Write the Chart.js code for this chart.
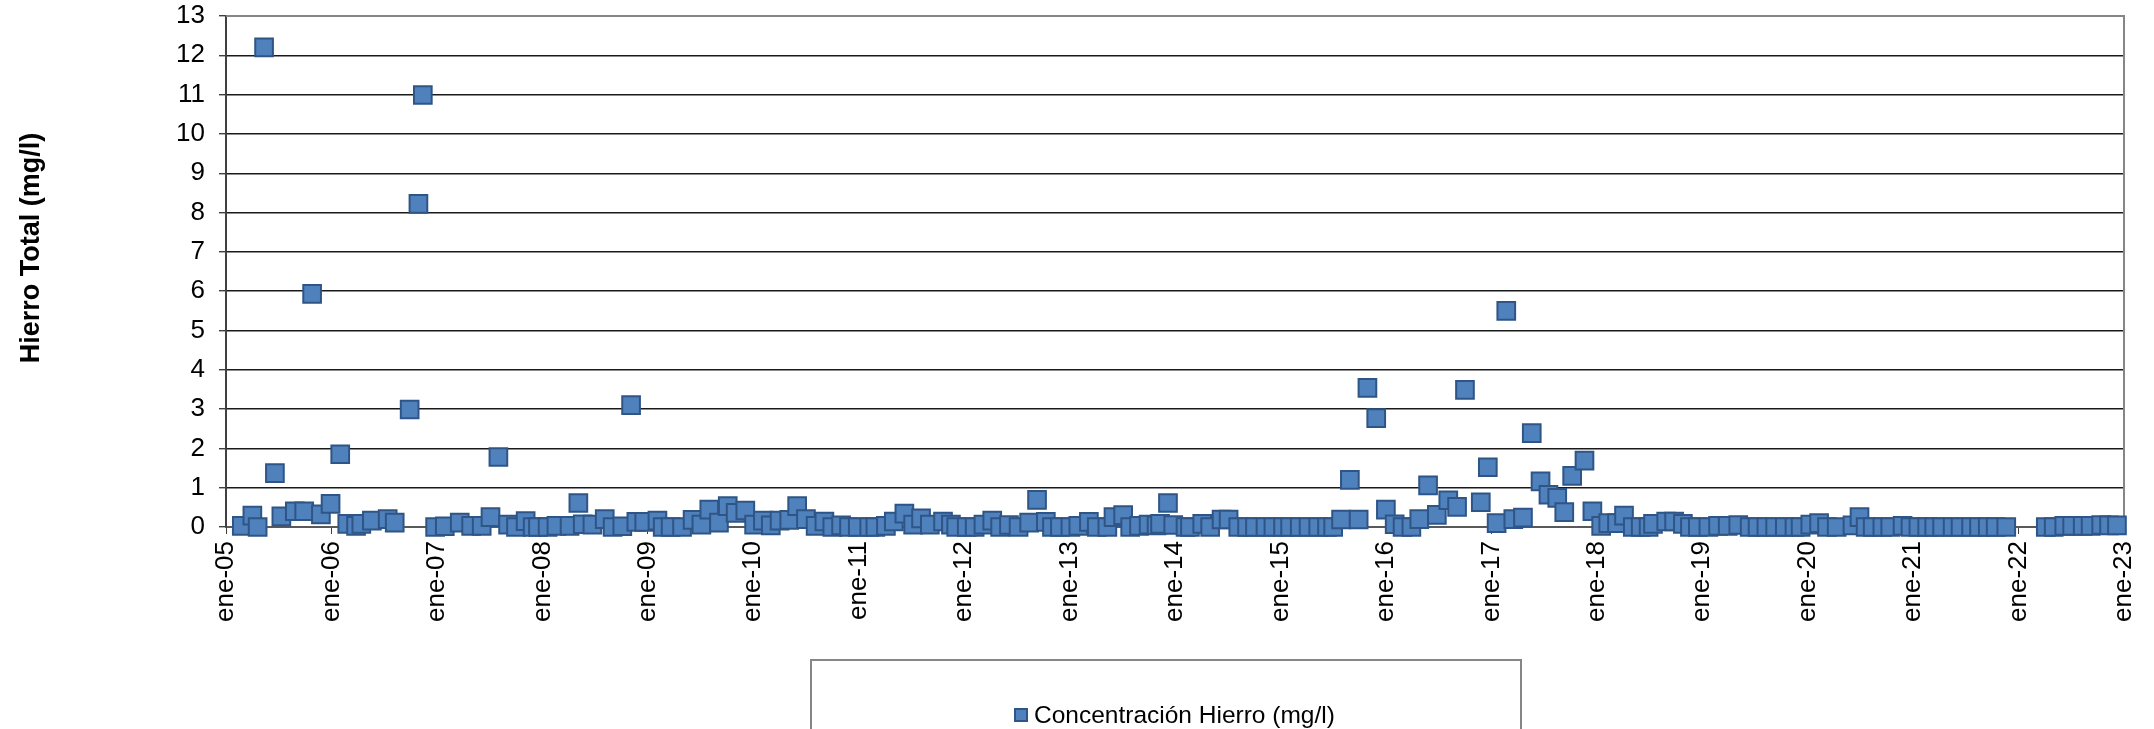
<!DOCTYPE html>
<html lang="es">
<head>
<meta charset="utf-8">
<title>Hierro Total</title>
<script src="https://cdn.jsdelivr.net/npm/chart.js@4.4.1/dist/chart.umd.min.js"></script>
<style>
  html, body { margin: 0; padding: 0; background: #fff; }
  #wrap { position: relative; width: 2154px; height: 729px; overflow: hidden; }
  #legendBox {
    position: absolute; left: 810px; top: 659px; width: 712px; height: 120px;
    border: 2px solid #868686; box-sizing: border-box;
    font-family: "Liberation Sans", Arial, sans-serif; font-size: 24.5px; color: #000;
  }
  #legendItem { position: absolute; left: 202px; top: 40px; line-height: 28px; white-space: nowrap; display: flex; align-items: center; }
  #legendItem .swatch { width: 14px; height: 14px; box-sizing: border-box; background: #4f81bd; border: 2px solid #2f5587; margin-right: 6px; }
</style>
</head>
<body>
<div id="wrap">
  <canvas id="ironChart"></canvas>
  <div id="legendBox"><div id="legendItem"><span class="swatch"></span><span>Concentración Hierro (mg/l)</span></div></div>
</div>
<script>
// sampling dates and total iron in mg/l
const sampleDates = [
  "2005-02-25", "2005-04-01", "2005-04-19", "2005-05-11", "2005-06-18", "2005-07-10", "2005-08-26", "2005-09-28",
  "2005-10-25", "2005-11-25", "2005-12-28", "2006-02-01", "2006-02-25", "2006-03-25", "2006-04-13", "2006-05-19",
  "2006-07-13", "2006-08-07", "2006-09-28", "2006-10-28", "2006-11-13", "2006-12-25", "2007-01-28", "2007-03-19",
  "2007-04-28", "2007-06-04", "2007-07-04", "2007-08-01", "2007-09-04", "2007-10-01", "2007-11-04", "2007-11-28",
  "2007-12-16", "2008-01-19", "2008-02-19", "2008-04-04", "2008-05-04", "2008-05-19", "2008-06-22", "2008-08-04",
  "2008-09-01", "2008-10-04", "2008-11-04", "2008-11-22", "2008-12-19", "2009-02-04", "2009-02-22", "2009-03-19",
  "2009-04-28", "2009-06-04", "2009-07-04", "2009-08-01", "2009-09-04", "2009-10-04", "2009-11-01", "2009-12-04",
  "2010-01-04", "2010-02-04", "2010-03-01", "2010-04-01", "2010-05-04", "2010-06-01", "2010-07-01", "2010-08-04",
  "2010-09-04", "2010-10-01", "2010-11-01", "2010-11-28", "2010-12-28", "2011-02-07", "2011-02-28", "2011-04-04",
  "2011-05-01", "2011-06-07", "2011-07-07", "2011-08-04", "2011-09-04", "2011-10-19", "2011-11-16", "2011-12-04",
  "2012-01-10", "2012-02-07", "2012-03-07", "2012-04-07", "2012-05-04", "2012-06-04", "2012-07-07", "2012-08-13",
  "2012-09-10", "2012-10-10", "2012-11-01", "2012-11-28", "2013-01-04", "2013-02-01", "2013-03-07", "2013-04-04",
  "2013-05-10", "2013-06-01", "2013-07-04", "2013-07-28", "2013-08-28", "2013-10-01", "2013-10-28", "2013-11-10",
  "2013-12-07", "2013-12-25", "2014-02-07", "2014-02-22", "2014-04-04", "2014-05-01", "2014-06-10", "2014-07-04",
  "2014-08-07", "2014-09-07", "2014-10-04", "2014-11-10", "2014-12-07", "2015-01-10", "2015-02-04", "2015-03-07",
  "2015-04-07", "2015-05-10", "2015-06-10", "2015-07-01", "2015-07-28", "2015-08-28", "2015-09-28", "2015-10-28",
  "2015-11-28", "2016-01-01", "2016-02-01", "2016-02-28", "2016-03-28", "2016-04-25", "2016-05-25", "2016-06-25",
  "2016-08-04", "2016-09-04", "2016-10-01", "2016-11-25", "2016-12-19", "2017-01-19", "2017-02-22", "2017-03-16",
  "2017-04-19", "2017-05-19", "2017-06-19", "2017-07-16", "2017-08-16", "2017-09-10", "2017-10-07", "2017-11-19",
  "2017-12-16", "2018-01-16", "2018-02-10", "2018-03-10", "2018-04-04", "2018-05-04", "2018-06-01", "2018-06-28",
  "2018-07-13", "2018-08-28", "2018-09-25", "2018-10-25", "2018-11-19", "2018-12-16", "2019-01-22", "2019-02-25",
  "2019-03-28", "2019-05-04", "2019-06-13", "2019-07-10", "2019-08-10", "2019-09-10", "2019-10-13", "2019-11-16",
  "2019-12-07", "2020-01-10", "2020-02-10", "2020-03-07", "2020-04-10", "2020-06-04", "2020-06-28", "2020-07-19",
  "2020-08-13", "2020-09-16", "2020-10-13", "2020-11-25", "2020-12-22", "2021-01-19", "2021-02-19", "2021-03-13",
  "2021-04-10", "2021-05-16", "2021-06-13", "2021-07-19", "2021-08-16", "2021-09-16", "2021-10-13", "2021-11-19",
  "2022-04-04", "2022-05-01", "2022-06-07", "2022-07-04", "2022-08-10", "2022-09-07", "2022-10-13", "2022-11-10",
  "2022-12-07"
];
const ironValues = [
  0.03, 0.29, 0.00, 12.2, 1.37, 0.27, 0.40, 0.40,
  5.93, 0.32, 0.59, 1.85, 0.08, 0.03, 0.08, 0.16,
  0.20, 0.11, 2.99, 8.22, 10.99, 0.00, 0.02, 0.11,
  0.03, 0.03, 0.25, 1.78, 0.06, 0.00, 0.15, 0.00,
  0.00, 0.00, 0.03, 0.03, 0.61, 0.07, 0.06, 0.20,
  0.00, 0.02, 3.10, 0.13, 0.13, 0.16, 0.00, 0.00,
  0.00, 0.18, 0.06, 0.44, 0.11, 0.53, 0.36, 0.42,
  0.06, 0.16, 0.04, 0.16, 0.18, 0.53, 0.20, 0.03,
  0.14, 0.00, 0.04, 0.00, 0.00, 0.00, 0.00, 0.03,
  0.14, 0.34, 0.06, 0.22, 0.06, 0.14, 0.06, 0.00,
  0.00, 0.00, 0.06, 0.16, 0.00, 0.05, 0.00, 0.11,
  0.69, 0.13, 0.00, 0.00, 0.00, 0.03, 0.13, 0.00,
  0.00, 0.25, 0.30, 0.00, 0.03, 0.06, 0.04, 0.08,
  0.61, 0.05, 0.00, 0.00, 0.08, 0.00, 0.19, 0.19,
  0.00, 0.00, 0.00, 0.00, 0.00, 0.00, 0.00, 0.00,
  0.00, 0.00, 0.00, 0.00, 0.19, 1.20, 0.19, 3.54,
  2.77, 0.44, 0.07, 0.00, 0.00, 0.20, 1.06, 0.31,
  0.68, 0.51, 3.49, 0.63, 1.52, 0.10, 5.50, 0.20,
  0.24, 2.39, 1.16, 0.82, 0.74, 0.38, 1.30, 1.69,
  0.40, 0.03, 0.10, 0.10, 0.29, 0.00, 0.00, 0.00,
  0.08, 0.14, 0.14, 0.08, 0.00, 0.00, 0.00, 0.03,
  0.03, 0.05, 0.00, 0.00, 0.00, 0.00, 0.00, 0.00,
  0.00, 0.06, 0.10, 0.00, 0.00, 0.04, 0.25, 0.00,
  0.00, 0.00, 0.00, 0.03, 0.00, 0.00, 0.00, 0.00,
  0.00, 0.00, 0.00, 0.00, 0.00, 0.00, 0.00, 0.00,
  0.00, 0.00, 0.03, 0.03, 0.03, 0.03, 0.05, 0.04,
  0.04
];
const yearLabels = ["ene-05", "ene-06", "ene-07", "ene-08", "ene-09", "ene-10", "ene-11", "ene-12", "ene-13",
  "ene-14", "ene-15", "ene-16", "ene-17", "ene-18", "ene-19", "ene-20", "ene-21", "ene-22", "ene-23"];
const yTicks = [0, 1, 2, 3, 4, 5, 6, 7, 8, 9, 10, 11, 12, 13];

const seriesLabel = "Concentración Hierro (mg/l)";
const yTitle = "Hierro Total (mg/l)";
const FONT = '"Liberation Sans", Arial, sans-serif';

// months elapsed since ene-05
function monthIndex(dateStr) {
  const [y, m, d] = dateStr.split("-").map(Number);
  return (y - 2005) * 12 + (m - 1) + (d - 1) / 30;
}

const points = sampleDates.map((d, i) => ({ x: monthIndex(d), y: ironValues[i] }));

// top/right frame and the rotated y title
const framePlugin = {
  id: "frame",
  beforeDatasetsDraw(chart) {
    const { ctx, chartArea } = chart;
    ctx.save();
    ctx.strokeStyle = "#868686";
    ctx.lineWidth = 2;
    ctx.beginPath();
    ctx.moveTo(chartArea.left, chartArea.top);
    ctx.lineTo(chartArea.right, chartArea.top);
    ctx.lineTo(chartArea.right, chartArea.bottom);
    ctx.stroke();
    ctx.restore();
  },
  afterDraw(chart) {
    const { ctx } = chart;
    ctx.save();
    ctx.translate(32, 248);
    ctx.rotate(-Math.PI / 2);
    ctx.font = "bold 27px " + FONT;
    ctx.fillStyle = "#000";
    ctx.textAlign = "center";
    ctx.textBaseline = "middle";
    ctx.fillText(yTitle, 0, 0);
    ctx.restore();
  }
};

Chart.defaults.font.family = FONT;
Chart.defaults.color = "#000";

new Chart(document.getElementById("ironChart"), {
  type: "scatter",
  data: {
    datasets: [{
      label: seriesLabel,
      data: points,
      pointStyle: "rect",
      pointRadius: 12.5,
      pointBorderWidth: 2,
      backgroundColor: "#4f81bd",
      borderColor: "#2f5587",
      clip: false
    }]
  },
  options: {
    responsive: true,
    maintainAspectRatio: false,
    animation: false,
    events: [],
    layout: { padding: { top: 16, right: 30, left: 0, bottom: 0 } },
    plugins: {
      legend: { display: false },
      tooltip: { enabled: false }
    },
    scales: {
      x: {
        type: "linear",
        min: 0,
        max: (yearLabels.length - 1) * 12,
        afterFit: (scale) => {
          scale.height = 202;
          scale.paddingLeft = 0;
          scale.paddingRight = 0;
        },
        border: { color: "#595959", width: 2 },
        grid: { drawOnChartArea: false, drawTicks: true, tickLength: 7, tickColor: "#404040" },
        afterBuildTicks: (scale) => {
          scale.ticks = yearLabels.map((_, i) => ({ value: i * 12 }));
        },
        ticks: {
          autoSkip: false,
          minRotation: 90,
          maxRotation: 90,
          padding: 7,
          font: { size: 26 },
          callback: (value) => yearLabels[Math.round(value / 12)]
        }
      },
      y: {
        min: 0,
        max: 13,
        afterFit: (scale) => {
          scale.width = 226;
          scale.paddingTop = 0;
          scale.paddingBottom = 0;
        },
        afterBuildTicks: (scale) => {
          scale.ticks = yTicks.map((v) => ({ value: v }));
        },
        border: { color: "#404040", width: 2 },
        grid: { color: "#1a1a1a", lineWidth: 1.4, tickLength: 7, tickColor: "#404040" },
        ticks: { padding: 14, font: { size: 26 } }
      }
    }
  },
  plugins: [framePlugin]
});
</script>
</body>
</html>
